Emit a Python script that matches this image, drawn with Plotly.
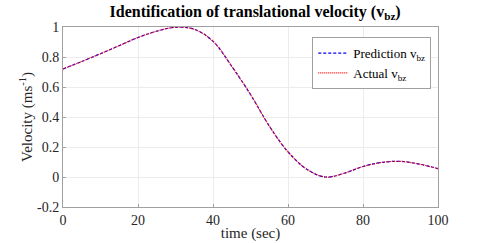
import plotly.graph_objects as go

time_s = [0, 5, 10, 15, 20, 25, 30, 35, 40, 45, 50, 55, 60, 65, 70, 75, 80, 85, 90, 95, 100]
actual_v = [0.72, 0.77, 0.822, 0.876, 0.93, 0.972, 0.998, 0.985, 0.905, 0.738, 0.55, 0.34, 0.168, 0.052, 0.0, 0.025, 0.07, 0.097, 0.104, 0.086, 0.056]
predicted_v = [0.72, 0.77, 0.822, 0.876, 0.93, 0.972, 0.998, 0.985, 0.905, 0.738, 0.55, 0.34, 0.168, 0.052, 0.0, 0.025, 0.07, 0.097, 0.104, 0.086, 0.056]
x_ticks = [0, 20, 40, 60, 80, 100]
y_ticks = [-0.2, 0, 0.2, 0.4, 0.6, 0.8, 1]
y_tick_text = ["-0.2", "0", "0.2", "0.4", "0.6", "0.8", "1"]

FONT = "Liberation Serif"

fig = go.Figure()
fig.add_trace(go.Scatter(x=time_s, y=predicted_v, mode="lines", line_shape="spline",
                         name="Prediction v<sub>bz</sub>",
                         line=dict(color="#0000ff", width=1.2, dash="3px,2px")))
fig.add_trace(go.Scatter(x=time_s, y=actual_v, mode="lines", line_shape="spline",
                         name="Actual v<sub>bz</sub>",
                         line=dict(color="#ff0000", width=1.2, dash="1px,1px")))

axis_common = dict(showline=True, linecolor="#a0a0a0", linewidth=1, mirror=True,
                   showgrid=True, gridcolor="#ececec", gridwidth=1, zeroline=False,
                   ticks="inside", ticklen=3, tickcolor="#a0a0a0", automargin=False,
                   tickfont=dict(family=FONT, size=14, color="#262626"))

fig.update_layout(
    width=485, height=243,
    margin=dict(l=63, r=47, t=27, b=36),
    paper_bgcolor="white", plot_bgcolor="white",
    font=dict(family=FONT),
    title=dict(text="<b>Identification of translational velocity (v<sub>bz</sub>)</b>",
               x=0.526, xanchor="center", y=0.955, yanchor="middle",
               font=dict(family=FONT, size=16, color="black")),
    xaxis=dict(range=[0, 100], tickvals=x_ticks,
               title=dict(text="time (sec)", font=dict(family=FONT, size=15, color="#262626"), standoff=0),
               **axis_common),
    yaxis=dict(range=[-0.2, 1], tickvals=y_ticks, ticktext=y_tick_text,
               title=dict(text="Velocity (ms<sup>-1</sup>)", font=dict(family=FONT, size=15, color="#262626"), standoff=0),
               **axis_common),
    legend=dict(x=0.982, y=0.944, xanchor="right", yanchor="top",
                bgcolor="white", bordercolor="#a0a0a0", borderwidth=1,
                font=dict(family=FONT, size=13, color="black"),
                tracegroupgap=0, itemwidth=30),
    showlegend=True,
)

fig.write_html("out.html", config={"displayModeBar": False},
               post_script="document.body.style.margin='0';")
